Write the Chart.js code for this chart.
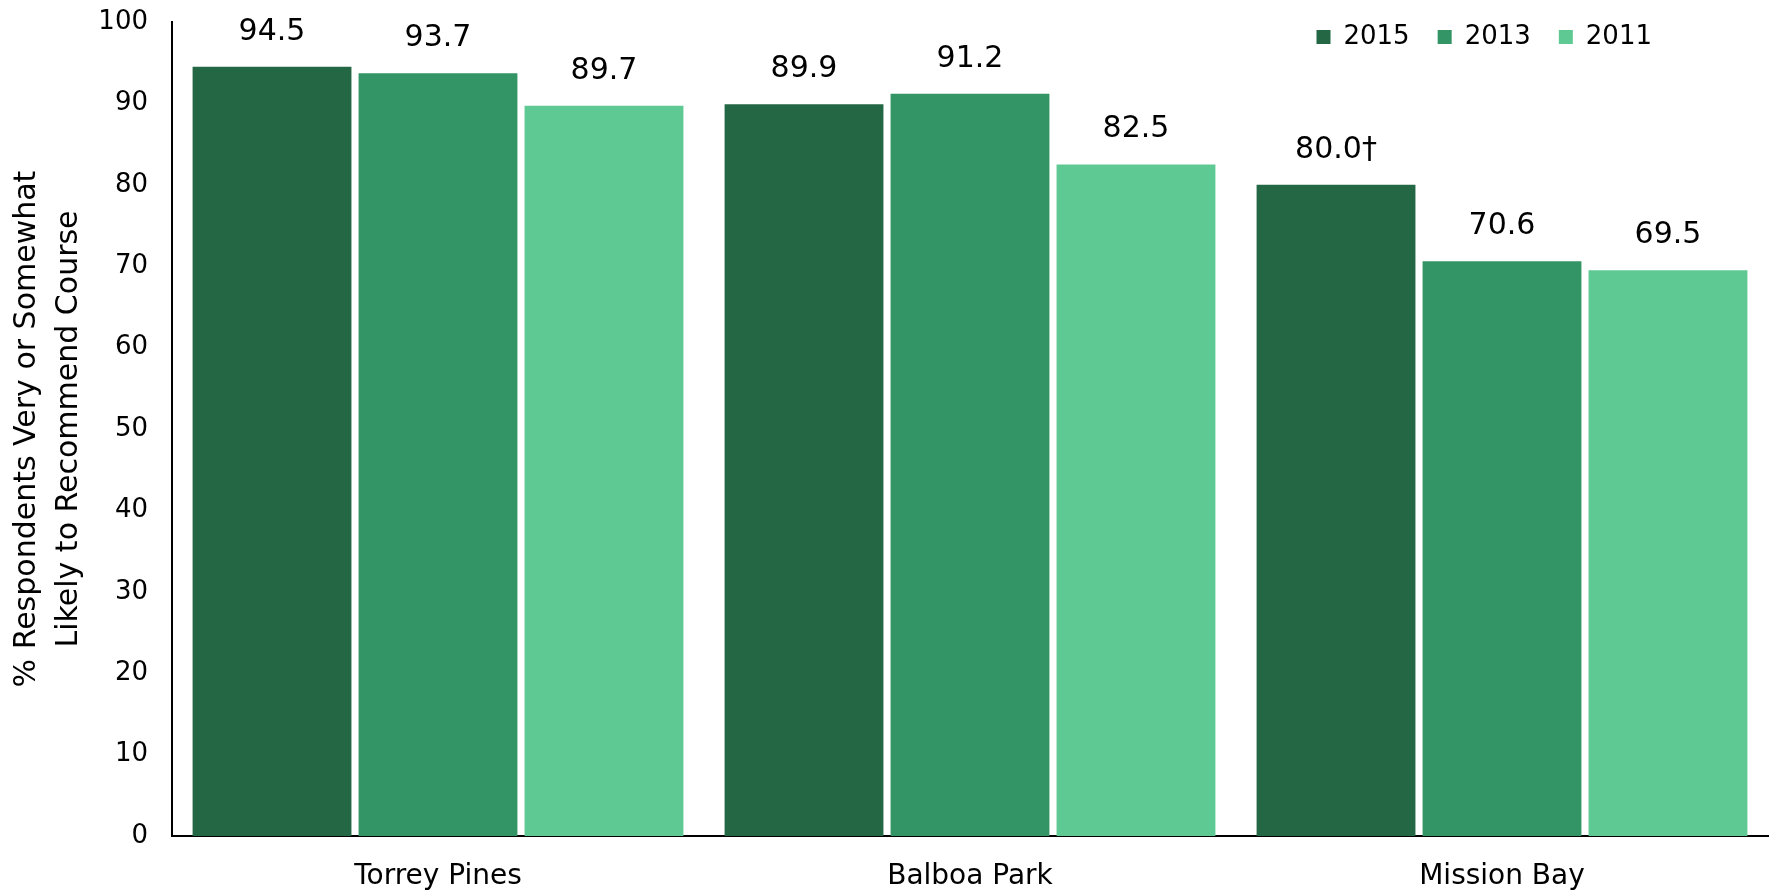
<!DOCTYPE html>
<html>
<head>
<meta charset="utf-8">
<script src="https://cdn.jsdelivr.net/npm/chart.js@4/dist/chart.umd.min.js"></script>
<style>
  html, body { margin: 0; padding: 0; background: #fff; }
  #wrap { width: 1771px; height: 893px; position: relative; }
</style>
</head>
<body>
<div id="wrap"><canvas id="chart"></canvas></div>
<script>
// --- DATI ---
const courses = ["Torrey Pines", "Balboa Park", "Mission Bay"];
const years = ["2015", "2013", "2011"];
const values2015 = [94.5, 89.9, 80.0];
const values2013 = [93.7, 91.2, 70.6];
const values2011 = [89.7, 82.5, 69.5];
const notes2015 = ["", "", "†"];
const yTicks = [0, 10, 20, 30, 40, 50, 60, 70, 80, 90, 100];
const yTitle = ["% Respondents Very or Somewhat", "Likely to Recommend Course"];

const colors = ['#236745', '#339465', '#5ec993'];
const FONT = "'DejaVu Sans', sans-serif";

// etichette sopra le barre
const barLabels = {
    id: 'barLabels',
    afterDatasetsDraw(chart) {
        const ctx = chart.ctx;
        ctx.save();
        ctx.font = "30px " + FONT;
        ctx.fillStyle = '#000';
        ctx.textAlign = 'center';
        ctx.textBaseline = 'alphabetic';
        chart.data.datasets.forEach((ds, i) => {
            chart.getDatasetMeta(i).data.forEach((bar, j) => {
                const note = ds.notes ? ds.notes[j] : "";
                ctx.fillText(ds.data[j].toFixed(1) + note, bar.x, bar.y - 27);
            });
        });
        ctx.restore();
    }
};

// legenda in alto a destra dentro l'area del grafico
const topLegend = {
    id: 'topLegend',
    afterDraw(chart) {
        const ctx = chart.ctx;
        const area = chart.chartArea;
        ctx.save();
        ctx.font = "26px " + FONT;
        ctx.textBaseline = 'middle';
        const box = 14, gapText = 13, gapItem = 28;
        const items = chart.data.datasets.map(ds => ({ label: ds.label, color: ds.backgroundColor, w: ctx.measureText(ds.label).width }));
        let total = 0;
        items.forEach((it, i) => { total += box + gapText + it.w + (i < items.length - 1 ? gapItem : 0); });
        let x = area.right - 116 - total;
        const y = 37;
        items.forEach(it => {
            ctx.fillStyle = it.color;
            ctx.fillRect(x, y - box / 2, box, box);
            x += box + gapText;
            ctx.fillStyle = '#000';
            ctx.fillText(it.label, x, y);
            x += it.w + gapItem;
        });
        ctx.restore();
    }
};

const ctx = document.getElementById('chart').getContext('2d');
new Chart(ctx, {
    type: 'bar',
    data: {
        labels: courses,
        datasets: [
            { label: years[0], data: values2015, notes: notes2015, backgroundColor: colors[0] },
            { label: years[1], data: values2013, backgroundColor: colors[1] },
            { label: years[2], data: values2011, backgroundColor: colors[2] }
        ]
    },
    options: {
        responsive: true,
        maintainAspectRatio: false,
        animation: false,
        categoryPercentage: 0.936,
        barPercentage: 0.957,
        layout: { padding: { top: 22, right: 3, left: 0, bottom: 0 } },
        plugins: { legend: { display: false }, tooltip: { enabled: false } },
        scales: {
            x: {
                grid: { display: false, drawTicks: false },
                border: { color: '#000', width: 2 },
                ticks: { color: '#000', font: { family: FONT, size: 28 }, padding: 24 },
                afterFit: s => { s.height = 57; }
            },
            y: {
                min: 0, max: 100,
                afterBuildTicks: s => { s.ticks = yTicks.map(v => ({ value: v })); },
                grid: { display: false, drawTicks: false },
                border: { color: '#000', width: 2 },
                ticks: { color: '#000', font: { family: FONT, size: 26 }, padding: 24 },
                title: {
                    display: true,
                    text: yTitle,
                    color: '#000',
                    font: { family: FONT, size: 30, lineHeight: 1.4 },
                    padding: { top: 6, bottom: 0 }
                },
                afterFit: s => {
                    s.width = 172;
                    s.paddingTop = 0;
                    s.paddingBottom = 0;
                }
            }
        }
    },
    plugins: [barLabels, topLegend]
});
</script>
</body>
</html>
